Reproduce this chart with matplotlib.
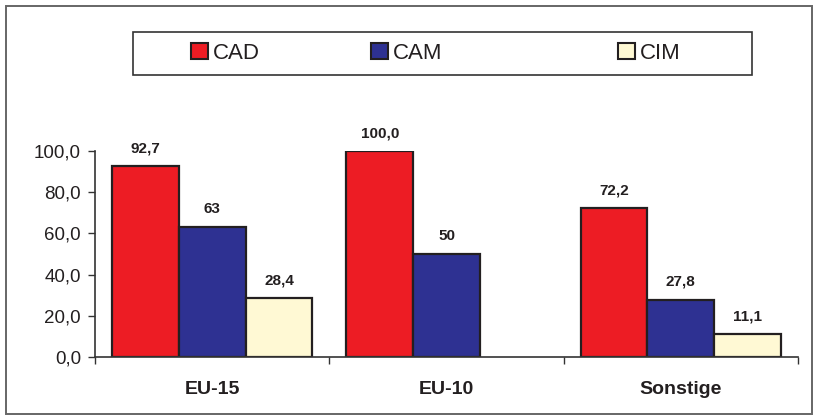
import numpy as np
import matplotlib
matplotlib.use("Agg")
import matplotlib.pyplot as plt
from matplotlib.patches import Rectangle, Patch

plt.rcParams['font.family'] = ['Liberation Sans', 'DejaVu Sans']

categories = ["EU-15", "EU-10", "Sonstige"]
series = ["CAD", "CAM", "CIM"]
cad = [92.7, 100.0, 72.2]
cam = [63, 50, 27.8]
cim = [28.4, None, 11.1]
cad_labels = ["92,7", "100,0", "72,2"]
cam_labels = ["63", "50", "27,8"]
cim_labels = ["28,4", "", "11,1"]

colors = ["#ED1C24", "#2E3192", "#FFF9D4"]
edge = "#231F20"

fig = plt.figure(figsize=(8.17, 4.2), dpi=100)
ax = fig.add_axes([95 / 817, 1 - 357 / 420, 703 / 817, 206 / 420])

x = np.arange(len(categories))
w = 0.285
for j, (vals, labs) in enumerate(zip([cad, cam, cim], [cad_labels, cam_labels, cim_labels])):
    for i, v in enumerate(vals):
        if v is None:
            continue
        xi = x[i] + (j - 1) * w
        ax.bar(xi, v, w, color=colors[j], edgecolor=edge, linewidth=1.6, zorder=2)
        ax.annotate(labs[i], (xi, v), xytext=(0, 10), textcoords="offset points",
                    ha="center", va="baseline", fontsize=11, fontweight="bold",
                    color="#231F20", annotation_clip=False)

ax.set_xlim(-0.5, 2.5)
ax.set_ylim(0, 100)
ax.set_yticks(np.arange(0, 101, 20))
ax.set_yticklabels([f"{t:.1f}".replace(".", ",") for t in np.arange(0, 101, 20)])
ax.tick_params(axis="y", length=5, width=1, color="#333333", labelsize=13.5, pad=5,
               labelcolor="#231F20")

ax.set_xticks(x)
ax.set_xticklabels(categories, fontweight="bold", fontsize=14, color="#231F20")
ax.set_xticks([-0.5, 0.5, 1.5, 2.5], minor=True)
ax.tick_params(axis="x", which="major", length=0, pad=17)
ax.tick_params(axis="x", which="minor", length=5, width=1, color="#333333")

for s in ["top", "right"]:
    ax.spines[s].set_visible(False)
for s in ["left", "bottom"]:
    ax.spines[s].set_color("#333333")
    ax.spines[s].set_linewidth(1.2)

# outer frame around the whole figure
fig.patches.append(Rectangle((6 / 817, 6 / 420), 806 / 817, 408 / 420, transform=fig.transFigure,
                             fill=False, edgecolor="#666666", linewidth=1.4))

# legend box with three entries
fig.patches.append(Rectangle((133 / 817, 1 - 75 / 420), 619 / 817, 43 / 420, transform=fig.transFigure,
                             fill=False, edgecolor="#333333", linewidth=1.2))
entry_x = [191, 371, 618]
for name, c, ex in zip(series, colors, entry_x):
    h = Patch(facecolor=c, edgecolor=edge, linewidth=1.5)
    fig.legend([h], [name], loc="center left", bbox_to_anchor=(ex / 817, 1 - 53.5 / 420),
               frameon=False, fontsize=16, handlelength=0.75, handleheight=0.75,
               handletextpad=0.25, borderpad=0, borderaxespad=0, labelcolor="#231F20")

fig.savefig("out.png", dpi=100)
